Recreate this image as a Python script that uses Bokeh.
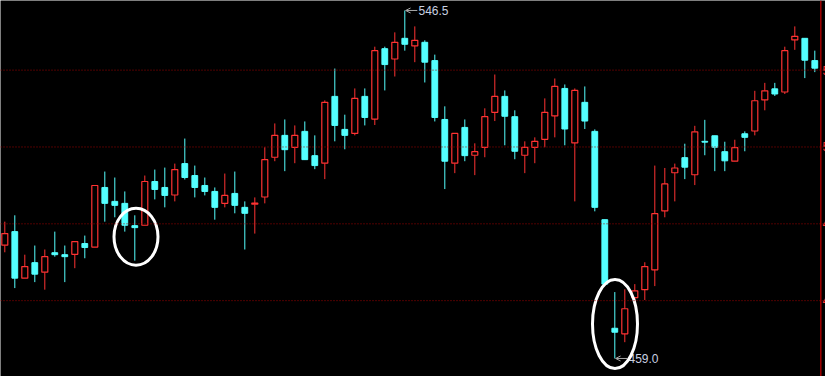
from bokeh.plotting import figure
from bokeh.models import Range1d, Span, Arrow, OpenHead, ColumnDataSource
from bokeh.embed import file_html
from bokeh.resources import INLINE
from bokeh.core.properties import value

opens = [487.5, 490.9, 479.2, 483.1, 480.7, 485.6, 485.1, 485.2, 487.9, 487.0,
         502.0, 498.5, 498.0, 492.4, 492.5, 503.5, 502.0, 500.1, 508.0, 505.0,
         502.5, 501.0, 498.0, 500.5, 497.0, 497.8, 499.6, 509.6, 515.1, 512.1,
         516.1, 510.0, 508.1, 524.9, 516.6, 515.6, 524.9, 519.2, 536.9, 534.3,
         539.5, 537.6, 538.5, 533.9, 519.1, 508.1, 517.1, 510.1, 512.1, 520.9,
         524.9, 519.8, 510.1, 512.1, 514.1, 520.0, 526.9, 513.2, 523.4, 516.1,
         493.9, 466.6, 465.2, 474.3, 476.3, 481.3, 496.1, 505.7, 509.5, 505.2,
         513.6, 515.0, 511.0, 508.6, 515.5, 516.2, 524.0, 526.8, 526.0, 539.1,
         539.5, 533.9]
highs = [493.4, 495.0, 485.1, 487.4, 486.4, 490.9, 487.4, 488.4, 489.9, 502.5,
         506.0, 504.5, 501.0, 495.0, 505.0, 506.5, 507.0, 508.0, 514.3, 507.5,
         504.5, 502.0, 505.5, 506.0, 498.5, 499.5, 512.1, 518.1, 519.1, 517.6,
         518.6, 515.1, 523.9, 531.9, 520.3, 526.9, 526.9, 537.4, 537.4, 541.0,
         546.5, 542.5, 539.0, 535.4, 522.4, 515.6, 519.1, 513.1, 521.9, 530.4,
         526.4, 521.4, 513.6, 514.6, 524.4, 529.4, 527.9, 526.9, 527.4, 516.6,
         493.9, 475.7, 476.4, 477.7, 483.2, 507.5, 506.9, 508.0, 513.0, 517.5,
         519.0, 515.0, 513.5, 514.0, 516.1, 526.3, 528.3, 528.3, 537.4, 542.5,
         539.5, 536.4]
lows = [485.7, 476.7, 479.2, 478.2, 476.3, 484.6, 478.2, 481.7, 484.2, 487.0,
        493.4, 494.5, 490.9, 483.6, 492.5, 499.0, 497.0, 498.5, 504.0, 499.5,
        500.0, 493.9, 497.0, 495.5, 486.4, 490.4, 498.0, 508.6, 506.1, 508.1,
        509.0, 506.6, 504.1, 513.6, 511.6, 515.1, 517.6, 517.7, 526.4, 529.9,
        536.4, 533.5, 528.4, 518.6, 501.6, 505.6, 508.6, 505.1, 509.6, 518.7,
        512.6, 509.1, 505.6, 508.1, 512.1, 514.6, 512.6, 498.5, 516.7, 496.0,
        477.7, 459.0, 463.1, 473.1, 473.7, 477.2, 494.5, 498.5, 504.1, 502.6,
        510.1, 506.1, 506.1, 508.6, 511.1, 515.1, 521.4, 525.0, 525.5, 536.6,
        529.5, 531.0]
closes = [490.4, 479.2, 482.1, 480.2, 484.6, 485.1, 484.6, 488.4, 486.9, 502.5,
          498.0, 497.5, 492.5, 491.9, 503.5, 501.5, 500.0, 506.5, 504.5, 502.0,
          501.0, 497.0, 500.0, 497.5, 495.5, 498.1, 509.0, 515.1, 511.5, 515.1,
          509.0, 507.5, 523.4, 517.6, 515.1, 524.4, 519.6, 536.4, 532.9, 538.5,
          538.0, 539.0, 533.5, 519.6, 508.6, 515.6, 510.0, 511.0, 519.8, 524.9,
          519.9, 511.1, 512.1, 513.6, 520.9, 527.4, 516.7, 526.4, 518.7, 497.0,
          477.7, 465.6, 471.5, 476.0, 482.1, 495.4, 502.9, 506.9, 507.1, 516.0,
          513.4, 512.1, 508.7, 512.0, 514.6, 523.8, 526.3, 525.5, 536.4, 540.0,
          534.0, 532.0]
grid_levels = [531.5, 512.18, 492.86, 473.54]
grid_labels = ["531.50", "512.18", "492.86", "473.54"]

UP = "#ff3232"
DOWN = "#54ffff"

n = len(opens)
idx = list(range(n))
up = [c > o for o, c in zip(opens, closes)]

up_src = ColumnDataSource(dict(
    x=[i for i in idx if up[i]],
    top=[closes[i] for i in idx if up[i]],
    bottom=[opens[i] for i in idx if up[i]],
    high=[highs[i] for i in idx if up[i]],
    low=[lows[i] for i in idx if up[i]],
))
dn_src = ColumnDataSource(dict(
    x=[i for i in idx if not up[i]],
    top=[opens[i] for i in idx if not up[i]],
    bottom=[closes[i] for i in idx if not up[i]],
    high=[highs[i] for i in idx if not up[i]],
    low=[lows[i] for i in idx if not up[i]],
))

p = figure(width=825, height=376, output_backend="svg", toolbar_location=None,
           x_range=Range1d(-0.43, 82.07), y_range=Range1d(454.47, 549.01),
           x_axis_type=None, y_axis_type=None, min_border=0,
           background_fill_color="black", border_fill_color="black",
           outline_line_color=None)
p.grid.visible = False

for lv in grid_levels:
    p.add_layout(Span(location=lv, dimension="width", line_color="#a00000",
                      line_width=1, line_dash="1 2"))
p.add_layout(Span(location=81.6, dimension="height", line_color="#a00000", line_width=1.5))

p.segment(x0="x", y0="high", x1="x", y1="low", source=dn_src, line_color=DOWN, line_width=1)
p.vbar(x="x", top="top", bottom="bottom", width=0.58, source=dn_src,
       fill_color=DOWN, line_color=DOWN, line_width=1)
p.segment(x0="x", y0="high", x1="x", y1="low", source=up_src, line_color=UP, line_width=1)
p.vbar(x="x", top="top", bottom="bottom", width=0.6, source=up_src,
       fill_color="black", line_color=UP, line_width=1.2)

p.text(x=[81.77] * len(grid_levels), y=grid_levels, text=grid_labels,
       text_color=UP, text_font_size="12px", text_baseline="middle",
       text_align="left", text_font=value("Liberation Sans"))

hi_i = highs.index(max(highs))
lo_i = lows.index(min(lows))
for i, yv in ((hi_i, highs[hi_i]), (lo_i, lows[lo_i])):
    p.add_layout(Arrow(end=OpenHead(size=5, line_color="#a8a8a8", line_width=1),
                       x_start=i + 1.25, y_start=yv, x_end=i + 0.08, y_end=yv,
                       line_color="#a8a8a8", line_width=1))
    p.text(x=[i + 1.37], y=[yv], text=[f"{yv:.1f}"], text_color="#c8d0e0",
           text_font_size="12px", text_baseline="middle", text_align="left",
           text_font=value("Liberation Sans"))

p.ellipse(x=[13.12, 61.02], y=[489.6, 467.67], width=[44, 45], height=[57, 89],
          width_units="screen", height_units="screen", fill_color=None,
          line_color="white", line_width=3)

open("out.html", "w").write(file_html(p, INLINE))
